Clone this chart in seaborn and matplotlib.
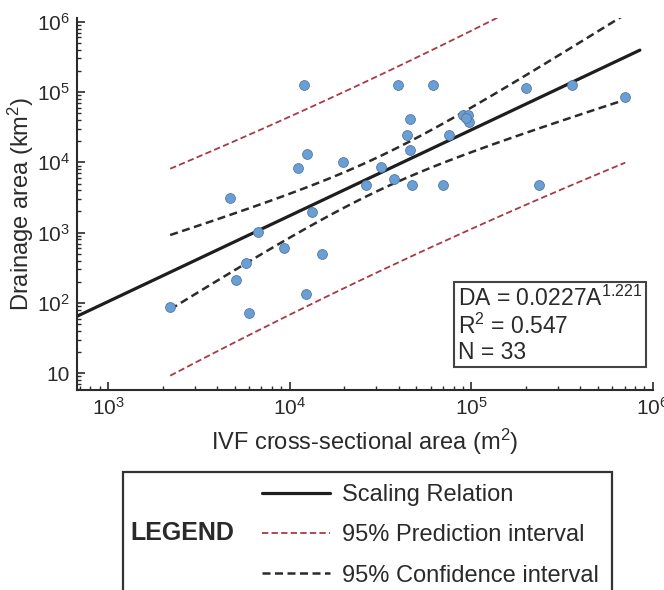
import numpy as np
import pandas as pd
import matplotlib
matplotlib.use("Agg")
import matplotlib.pyplot as plt
import seaborn as sns
from matplotlib.lines import Line2D
from matplotlib.patches import Rectangle
from matplotlib.ticker import LogLocator, FixedLocator, FixedFormatter, NullFormatter

# ---------------------- DATA ----------------------
ivf_area = [12000, 12500, 11100, 19700, 26400, 4700, 39600, 61800, 201000, 360000,
            706000, 46100, 90300, 96200, 97500, 93700, 44400, 75700, 46100, 31900,
            37600, 47300, 70100, 237000, 6700, 13300, 9330, 15100, 5760, 5070,
            12300, 2200, 5980]
drainage = [126000, 13200, 8300, 10100, 4760, 3120, 126000, 126000, 114000, 126000,
            85000, 41400, 47200, 47200, 37600, 42900, 24500, 24500, 15000, 8600,
            5800, 4760, 4760, 4760, 1020, 1970, 606, 498, 371, 212,
            134, 88, 72]

coef_a = 0.0227
coef_b = 1.221
r2_text = "0.547"
t_crit = 2.040  # t(0.975, df=31)

x_ticks = [1e3, 1e4, 1e5, 1e6]
x_ticklabels = ["$10^3$", "$10^4$", "$10^5$", "$10^6$"]
y_ticks = [1e1, 1e2, 1e3, 1e4, 1e5, 1e6]
y_ticklabels = ["10", "$10^2$", "$10^3$", "$10^4$", "$10^5$", "$10^6$"]

legend_labels = ["Scaling Relation", "95% Prediction interval", "95% Confidence interval"]

# ---------------------- FIT + INTERVALS ----------------------
df = pd.DataFrame({"area": ivf_area, "da": drainage})
lx = np.log10(df["area"].values)
ly = np.log10(df["da"].values)
n = len(lx)
resid = ly - (np.log10(coef_a) + coef_b * lx)
s = np.sqrt(np.sum(resid ** 2) / (n - 2))
sxx = np.sum((lx - lx.mean()) ** 2)

grid = np.linspace(lx.min(), lx.max(), 120)
fit_grid = np.log10(coef_a) + coef_b * grid
ci = t_crit * s * np.sqrt(1 / n + (grid - lx.mean()) ** 2 / sxx)
pi = t_crit * s * np.sqrt(1 + 1 / n + (grid - lx.mean()) ** 2 / sxx)

line_x = np.linspace(np.log10(675), np.log10(8.5e5), 50)
line_df = pd.DataFrame({"x": 10 ** line_x, "y": coef_a * (10 ** line_x) ** coef_b})
band_df = pd.DataFrame({"x": 10 ** grid,
                        "ci_lo": 10 ** (fit_grid - ci), "ci_hi": 10 ** (fit_grid + ci),
                        "pi_lo": 10 ** (fit_grid - pi), "pi_hi": 10 ** (fit_grid + pi)})

# ---------------------- STYLE ----------------------
sns.set_style("ticks")
plt.rcParams["font.family"] = ["Liberation Sans", "DejaVu Sans"]
plt.rcParams["mathtext.fontset"] = "custom"
plt.rcParams["mathtext.rm"] = "Liberation Sans"
plt.rcParams["mathtext.it"] = "Liberation Sans:italic"
plt.rcParams["mathtext.bf"] = "Liberation Sans:bold"

text_col = "#2a2a2a"
red = "#a83a45"
dark = "#2b2b2b"
pi_style = (0, (3.5, 1.8))
ci_style = (0, (3.2, 1.8))

fig = plt.figure(figsize=(6.64, 5.90), dpi=100)
ax = fig.add_axes([0.116, 0.339, 0.867, 0.6305])

# ---------------------- PLOT ----------------------
sns.lineplot(data=band_df, x="x", y="pi_hi", ax=ax, color=red, lw=1.3,
             linestyle=pi_style, sort=False, estimator=None)
sns.lineplot(data=band_df, x="x", y="pi_lo", ax=ax, color=red, lw=1.3,
             linestyle=pi_style, sort=False, estimator=None)
sns.lineplot(data=band_df, x="x", y="ci_hi", ax=ax, color=dark, lw=1.8,
             linestyle=ci_style, sort=False, estimator=None)
sns.lineplot(data=band_df, x="x", y="ci_lo", ax=ax, color=dark, lw=1.8,
             linestyle=ci_style, sort=False, estimator=None)
sns.lineplot(data=line_df, x="x", y="y", ax=ax, color="#1e1e1e", lw=2.3,
             sort=False, estimator=None)
sns.scatterplot(data=df, x="area", y="da", ax=ax, s=50, color="#6a9fd6",
                edgecolor="#5577a0", linewidth=0.6, zorder=5)

ax.set_xscale("log")
ax.set_yscale("log")
ax.set_xlim(675, 1e6)
ax.set_ylim(5.78, 1.13e6)

ax.xaxis.set_major_locator(FixedLocator(x_ticks))
ax.xaxis.set_major_formatter(FixedFormatter(x_ticklabels))
ax.yaxis.set_major_locator(FixedLocator(y_ticks))
ax.yaxis.set_major_formatter(FixedFormatter(y_ticklabels))
ax.xaxis.set_minor_locator(LogLocator(base=10, subs=np.arange(2, 10), numticks=20))
ax.yaxis.set_minor_locator(LogLocator(base=10, subs=np.arange(2, 10), numticks=20))
ax.xaxis.set_minor_formatter(NullFormatter())
ax.yaxis.set_minor_formatter(NullFormatter())

ax.tick_params(which="major", direction="in", length=6, width=1.2, labelsize=15,
               colors=dark, labelcolor=text_col, pad=5)
ax.tick_params(which="minor", direction="in", length=3, width=1.0, colors=dark)
for side in ["top", "right"]:
    ax.spines[side].set_visible(False)
for side in ["left", "bottom"]:
    ax.spines[side].set_linewidth(1.5)
    ax.spines[side].set_color(dark)

ax.set_xlabel("IVF cross-sectional area (m$^2$)", fontsize=17, color=text_col, labelpad=6)
ax.set_ylabel("Drainage area (km$^2$)", fontsize=17, color=text_col, labelpad=1)

ax.text(0.661, 0.071,
        "DA = 0.0227A$^{1.221}$\nR$^2$ = " + r2_text + "\nN = " + str(n),
        transform=ax.transAxes, fontsize=16.5, color=text_col, linespacing=1.12,
        va="bottom", ha="left",
        bbox=dict(boxstyle="square,pad=0.15", fc="white", ec="#444444", lw=1.5))

# ---------------------- LEGEND ----------------------
box = Rectangle((0.185, -0.05), 0.737, 0.25, transform=fig.transFigure,
                fill=False, ec="#333333", lw=1.6, clip_on=False)
fig.patches.append(box)
fig.text(0.196, 0.097, "LEGEND", fontsize=18, fontweight="bold", color=text_col,
         va="center", ha="left")
handles = [Line2D([], [], color="#1e1e1e", lw=2.3),
           Line2D([], [], color=red, lw=1.3, linestyle=pi_style),
           Line2D([], [], color=dark, lw=1.8, linestyle=ci_style)]
fig.legend(handles, legend_labels, loc="upper left", bbox_to_anchor=(0.394, 0.180),
           frameon=False, fontsize=17, handlelength=2.9, handletextpad=0.5,
           labelspacing=0.78, borderpad=0, borderaxespad=0, labelcolor=text_col)

fig.savefig("out.png", dpi=100)
